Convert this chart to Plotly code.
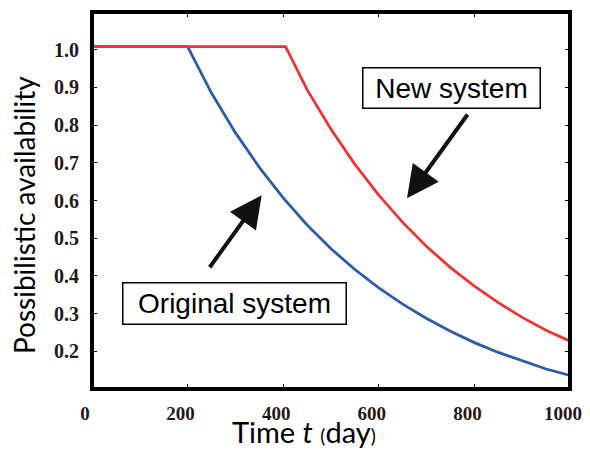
import plotly.graph_objects as go

# Data
t_original = [0, 200, 250, 300, 350, 400, 450, 500, 550, 600, 650, 700, 750, 800, 850, 900, 950, 1000]
a_original = [1.008, 1.008, 0.885, 0.780, 0.688, 0.607, 0.535, 0.472, 0.417, 0.368, 0.325, 0.287, 0.253, 0.223, 0.197, 0.174, 0.153, 0.136]

t_new = [0, 405, 450, 500, 550, 600, 650, 700, 750, 800, 850, 900, 950, 1000]
a_new = [1.008, 1.008, 0.894, 0.789, 0.696, 0.614, 0.542, 0.478, 0.422, 0.373, 0.329, 0.290, 0.256, 0.227]

x_ticks = [0, 200, 400, 600, 800, 1000]
y_ticks = [0.2, 0.3, 0.4, 0.5, 0.6, 0.7, 0.8, 0.9, 1.0]
y_ticktext = ["0.2", "0.3", "0.4", "0.5", "0.6", "0.7", "0.8", "0.9", "1.0"]

fig = go.Figure()
fig.add_trace(go.Scatter(x=t_original, y=a_original, mode="lines",
                         line=dict(color="#2a5caa", width=2.8), name="Original system"))
fig.add_trace(go.Scatter(x=t_new, y=a_new, mode="lines",
                         line=dict(color="#ee3535", width=2.8), name="New system"))

ytickfont = dict(family="Liberation Serif", size=20, color="#231815", weight="bold")
xtickfont = dict(family="Liberation Serif", size=19, color="#231815", weight="bold")

# page body has an 8px margin, so the figure is drawn 8px in from the window corner
W, H = 582, 442
L, R, T, B = 84, 20, 4, 61
PW, PH = W - L - R, H - T - B
OFF = 8

fig.update_layout(
    width=W, height=H,
    margin=dict(l=L, r=R, t=T, b=B, autoexpand=False),
    paper_bgcolor="white", plot_bgcolor="white",
    showlegend=False,
    xaxis=dict(range=[0, 1000], tickvals=x_ticks, ticks="inside", ticklen=5, tickwidth=1,
               tickcolor="black", showline=True, linecolor="black", linewidth=1,
               mirror="ticks", showgrid=False, zeroline=False, tickfont=xtickfont,
               ticklabelstandoff=7, ticklabelshift=-7, automargin=False,
               ticklabeloverflow="allow"),
    yaxis=dict(range=[0.1, 1.1], tickvals=y_ticks, ticktext=y_ticktext, ticks="inside",
               ticklen=5, tickwidth=1, tickcolor="black", showline=True, linecolor="black",
               linewidth=1, mirror="ticks", showgrid=False, zeroline=False, tickfont=ytickfont,
               ticklabelstandoff=8, automargin=False, ticklabeloverflow="allow"),
    shapes=[dict(type="rect", xref="paper", yref="paper", x0=0, x1=1, y0=0, y1=1,
                 line=dict(color="black", width=4), layer="above")],
)

def px_to_paper(px, py):
    fx = px - OFF
    fy = py - OFF
    return (fx - L) / PW, (H - B - fy) / PH

xt_x, xt_y = px_to_paper(304, 431)
yt_x, yt_y = px_to_paper(24, 215)

annos = [
    dict(xref="paper", yref="paper", x=xt_x, y=xt_y,
         text="Time <i>t</i> <span style='font-size:19px'>(</span>day<span style='font-size:19px'>)</span>",
         showarrow=False, font=dict(family="Lato", size=29, color="black"),
         xanchor="center", yanchor="middle"),
    dict(xref="paper", yref="paper", x=yt_x, y=yt_y,
         text="Possibilistic availability", textangle=-90, showarrow=False,
         font=dict(family="Lato", size=28, color="black"), xanchor="center", yanchor="middle"),
    dict(x=752, y=0.898, text="New system", showarrow=False,
         font=dict(family="Liberation Sans", size=28, color="black"),
         bgcolor="white", bordercolor="black", borderwidth=1.5, borderpad=3, width=170, height=33),
    dict(x=299, y=0.326, text="Original system", showarrow=False,
         font=dict(family="Liberation Sans", size=28, color="black"),
         bgcolor="white", bordercolor="black", borderwidth=1.5, borderpad=3, width=216, height=34),
    dict(x=659, y=0.606, ax=788, ay=0.832, axref="x", ayref="y", text="", showarrow=True,
         arrowhead=2, arrowsize=1.6, arrowwidth=4, arrowcolor="#111111", standoff=0),
    dict(x=355, y=0.614, ax=244, ay=0.419, axref="x", ayref="y", text="", showarrow=True,
         arrowhead=2, arrowsize=1.6, arrowwidth=4, arrowcolor="#111111", standoff=0),
]
fig.update_layout(annotations=annos)

fig.write_html("out.html")
